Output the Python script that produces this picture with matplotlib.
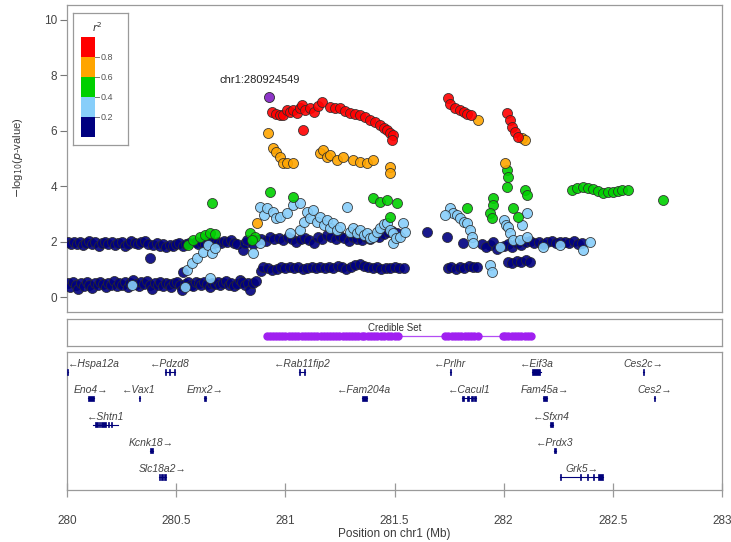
import matplotlib
matplotlib.use("Agg")
import matplotlib.pyplot as plt
from matplotlib.patches import Rectangle

plt.rcParams['font.family'] = ['Liberation Sans', 'DejaVu Sans']

# ---------------------------------------------------------------- data
# LD bins (r^2) and their colours
ld_labels = ["0.2", "0.4", "0.6", "0.8"]
ld_colors = ["#000080", "#87CEFA", "#00D000", "#FFA500", "#FF0000"]

# r^2 < 0.2
pos_ld1 = [
    # left upper band
    280.005, 280.018, 280.030, 280.045, 280.060, 280.072, 280.088, 280.100, 280.115, 280.130,
    280.145, 280.160, 280.175, 280.190, 280.205, 280.220, 280.235, 280.250, 280.265, 280.280,
    280.295, 280.310, 280.325, 280.340, 280.355, 280.370, 280.380, 280.395, 280.410, 280.425,
    280.440, 280.455, 280.470, 280.485, 280.500, 280.515, 280.532, 280.545, 280.560, 280.590,
    280.600, 280.615, 280.630, 280.645, 280.660, 280.675, 280.690, 280.705, 280.720, 280.735,
    280.750, 280.765, 280.780, 280.806,
    # left lower band
    280.005, 280.015, 280.028, 280.040, 280.052, 280.065, 280.078, 280.090, 280.103, 280.116,
    280.128, 280.140, 280.153, 280.166, 280.178, 280.190, 280.203, 280.216, 280.228, 280.240,
    280.253, 280.266, 280.278, 280.290, 280.303, 280.316, 280.328, 280.340, 280.353, 280.366,
    280.378, 280.390, 280.403, 280.416, 280.428, 280.440, 280.453, 280.466, 280.478, 280.490,
    280.503, 280.516, 280.528, 280.540, 280.553, 280.566, 280.578, 280.590, 280.603, 280.616,
    280.628, 280.640, 280.653, 280.666, 280.678, 280.690, 280.703, 280.716, 280.728, 280.740,
    280.753, 280.766, 280.778, 280.792, 280.802, 280.815, 280.830, 280.838, 280.852, 280.865,
    # middle lower band
    280.890, 280.900, 280.920, 280.940, 280.960, 280.980, 281.000, 281.020, 281.040, 281.060,
    281.080, 281.100, 281.120, 281.140, 281.160, 281.180, 281.200, 281.220, 281.240, 281.260,
    281.280, 281.300, 281.320, 281.340, 281.360, 281.380, 281.400, 281.420, 281.440, 281.460,
    281.480, 281.500, 281.520, 281.545,
    # middle upper band
    280.815, 280.825, 280.850, 280.870, 280.890, 280.910, 280.930, 280.950, 280.970, 280.990,
    281.010, 281.030, 281.050, 281.070, 281.090, 281.110, 281.130, 281.150, 281.170, 281.190,
    281.210, 281.230, 281.250, 281.270, 281.290, 281.310, 281.330, 281.350, 281.370, 281.390,
    281.410, 281.430, 281.450, 281.470, 281.490, 281.510,
    # scattered and right-hand bands
    281.649, 281.741, 281.814, 281.938, 281.900, 281.920, 281.950, 281.970,
    281.745, 281.760, 281.780, 281.800, 281.820, 281.840, 281.860, 281.880,
    282.020, 282.040, 282.060, 282.080, 282.100, 282.120,
    282.000, 282.020, 282.040, 282.060, 282.080, 282.100, 282.120, 282.140, 282.160, 282.180,
    282.200, 282.220, 282.240, 282.260, 282.280, 282.300, 282.320, 282.340, 282.360,
    280.532,
]
logp_ld1 = [
    1.98, 1.90, 2.00, 1.93, 1.99, 1.88, 1.96, 2.02, 1.92, 1.97,
    1.86, 1.94, 2.00, 1.91, 1.97, 1.89, 1.95, 1.99, 1.85, 1.93,
    2.01, 1.96, 1.90, 1.98, 2.03, 1.92, 1.41, 1.88, 1.95, 1.84,
    1.90, 1.80, 1.87, 1.83, 1.90, 1.94, 1.86, 1.92, 1.96, 2.00,
    1.93, 1.99, 1.91, 1.97, 2.02, 1.95, 2.00, 1.94, 2.03, 1.98,
    2.05, 1.96, 1.90, 1.69,
    0.50, 0.38, 0.55, 0.44, 0.30, 0.52, 0.40, 0.56, 0.45, 0.34,
    0.50, 0.42, 0.55, 0.46, 0.36, 0.52, 0.44, 0.58, 0.40, 0.50,
    0.45, 0.55, 0.38, 0.50, 0.60, 0.46, 0.40, 0.53, 0.48, 0.57,
    0.43, 0.30, 0.50, 0.45, 0.55, 0.40, 0.52, 0.47, 0.35, 0.50,
    0.56, 0.42, 0.25, 0.48, 0.53, 0.45, 0.40, 0.55, 0.50, 0.43,
    0.56, 0.48, 0.38, 0.52, 0.46, 0.55, 0.42, 0.50, 0.58, 0.45,
    0.52, 0.40, 0.48, 0.61, 0.55, 0.42, 0.50, 0.25, 0.50, 0.58,
    0.95, 1.10, 1.05, 0.98, 1.02, 1.08, 1.05, 1.10, 1.06, 1.08,
    1.02, 1.06, 1.10, 1.05, 1.08, 1.03, 1.10, 1.06, 1.12, 1.08,
    1.02, 1.08, 1.15, 1.20, 1.12, 1.08, 1.05, 1.10, 1.02, 1.06,
    1.04, 1.08, 1.05, 1.06,
    1.95, 2.05, 1.92, 2.05, 2.10, 2.02, 2.15, 2.08, 2.12, 2.05,
    2.15, 2.10, 1.98, 2.08, 2.12, 2.05, 1.96, 2.18, 2.10, 2.25,
    2.15, 2.08, 2.20, 2.12, 2.03, 2.18, 2.10, 2.05, 2.15, 2.08,
    2.22, 2.16, 2.28, 2.34, 2.40, 2.30,
    2.34, 2.16, 1.95, 1.87, 1.92, 1.80, 2.00, 1.75,
    1.05, 1.08, 1.02, 1.10, 1.06, 1.12, 1.08, 1.10,
    1.25, 1.22, 1.30, 1.28, 1.32, 1.25,
    1.85, 1.92, 1.80, 1.95, 1.88, 1.98, 2.02, 1.95, 2.00, 1.92,
    1.98, 2.02, 1.95, 2.00, 1.97, 1.94, 2.02, 1.90, 1.96,
    0.90,
]

# 0.2 <= r^2 < 0.4
pos_ld2 = [
    280.298, 280.541, 280.655, 280.550, 280.573, 280.596, 280.623, 280.646, 280.664, 280.678,
    280.852, 280.884, 280.884, 280.902, 280.916, 280.944, 280.957, 280.976, 281.008, 281.022,
    281.035, 281.067, 281.067, 281.086, 281.099, 281.113, 281.127, 281.145, 281.159, 281.177,
    281.191, 281.205, 281.219, 281.237, 281.251, 281.283, 281.296, 281.310, 281.328, 281.342,
    281.360, 281.374, 281.388, 281.402, 281.420, 281.434, 281.452, 281.466, 281.480, 281.493,
    281.493, 281.507, 281.525, 281.539, 281.548,
    281.754, 281.768, 281.786, 281.800, 281.818, 281.832, 281.846, 281.855, 281.860, 281.732,
    281.938, 281.947, 282.002, 282.011, 282.020, 282.029, 282.043, 282.075, 282.107, 282.107,
    282.084, 282.180, 282.258, 282.364, 282.396, 281.983,
]
logp_ld2 = [
    0.43, 0.36, 0.68, 0.97, 1.23, 1.41, 1.62, 1.87, 1.59, 1.77,
    1.59, 1.95, 3.24, 2.95, 3.21, 3.06, 2.85, 2.88, 3.03, 2.31,
    3.32, 3.39, 2.41, 2.70, 3.06, 2.85, 3.14, 2.70, 2.88, 2.59,
    2.77, 2.49, 2.67, 2.41, 2.52, 3.24, 2.34, 2.49, 2.31, 2.41,
    2.23, 2.31, 2.13, 2.16, 2.34, 2.49, 2.63, 2.67, 2.41, 2.31,
    1.95, 2.13, 2.16, 2.67, 2.34,
    3.21, 3.03, 2.95, 2.85, 2.70, 2.67, 2.41, 2.16, 1.95, 2.95,
    1.15, 0.90, 2.77, 2.59, 2.52, 2.31, 2.05, 2.05, 2.16, 3.03,
    2.59, 1.80, 1.87, 1.69, 1.98, 1.80,
]

# 0.4 <= r^2 < 0.6
pos_ld3 = [
    280.664, 280.930, 280.554, 280.577, 280.609, 280.632, 280.655, 280.678, 280.838, 280.861,
    280.847, 281.035, 281.402, 281.434, 281.466, 281.512, 281.480, 282.016, 282.020, 282.016,
    282.098, 282.107, 281.951, 281.951, 281.832, 281.938, 281.947, 282.043, 282.066,
    282.313, 282.336, 282.364, 282.387, 282.409, 282.432, 282.455, 282.478, 282.501, 282.524,
    282.542, 282.570, 282.730,
]
logp_ld3 = [
    3.39, 3.78, 1.87, 2.05, 2.16, 2.23, 2.31, 2.27, 2.31, 2.16,
    2.05, 3.60, 3.57, 3.42, 3.50, 3.39, 2.88, 4.58, 4.32, 3.96,
    3.86, 3.68, 3.57, 3.32, 3.21, 3.03, 2.85, 3.21, 2.88,
    3.86, 3.93, 3.96, 3.93, 3.89, 3.82, 3.75, 3.78, 3.78, 3.82,
    3.86, 3.86, 3.50,
]

# 0.6 <= r^2 < 0.8
pos_ld4 = [
    280.921, 280.944, 280.957, 280.976, 280.989, 281.008, 281.035, 281.159, 281.173, 281.191,
    281.205, 281.237, 281.264, 281.310, 281.342, 281.374, 281.402, 281.480, 281.480, 280.870,
    281.883, 282.084, 282.098, 282.006,
]
logp_ld4 = [
    5.91, 5.37, 5.23, 5.05, 4.83, 4.83, 4.83, 5.19, 5.30, 5.05,
    5.12, 4.94, 5.05, 4.94, 4.86, 4.83, 4.94, 4.68, 4.47, 2.67,
    6.38, 5.73, 5.66, 4.83,
]

# r^2 >= 0.8
pos_ld5 = [
    280.939, 280.957, 280.976, 280.989, 281.008, 281.022, 281.035, 281.054, 281.067, 281.076,
    281.090, 281.113, 281.131, 281.150, 281.168, 281.081, 281.205, 281.228, 281.251, 281.273,
    281.296, 281.319, 281.342, 281.365, 281.388, 281.411, 281.434, 281.452, 281.466, 281.480,
    281.493, 281.489, 281.745, 281.754, 281.777, 281.800, 281.818, 281.832, 281.850,
    282.016, 282.029, 282.038, 282.052, 282.066,
]
logp_ld5 = [
    6.67, 6.60, 6.56, 6.56, 6.74, 6.67, 6.74, 6.63, 6.81, 6.92,
    6.74, 6.81, 6.67, 6.88, 7.03, 6.02, 6.85, 6.81, 6.81, 6.70,
    6.63, 6.60, 6.56, 6.49, 6.38, 6.31, 6.20, 6.09, 6.02, 5.91,
    5.84, 5.66, 7.17, 6.95, 6.81, 6.74, 6.67, 6.60, 6.56,
    6.63, 6.38, 6.13, 5.95, 5.77,
]

# index SNP
index_name = "chr1:280924549"
index_pos = 280.924549
index_logp = 7.21

# credible set SNP positions (Mb)
credible_pos = [
    280.915, 280.928, 280.944, 280.958, 280.971, 280.986, 281.000, 281.017, 281.031, 281.046,
    281.060, 281.075, 281.089, 281.104, 281.118, 281.133, 281.147, 281.162, 281.176, 281.190,
    281.205, 281.219, 281.234, 281.248, 281.263, 281.277, 281.292, 281.306, 281.321, 281.335,
    281.350, 281.362, 281.378, 281.392, 281.407, 281.421, 281.440, 281.452, 281.470, 281.484,
    281.500, 281.515,
    281.733, 281.747, 281.762, 281.776, 281.791, 281.806, 281.821, 281.836, 281.851, 281.866,
    281.882,
    281.995, 282.008, 282.022, 282.037, 282.052, 282.066, 282.081, 282.096, 282.110, 282.124,
]

# genes: name, start, end, strand, row, exons
genes = [
    ("Hspa12a", 279.960, 280.006, "-", 0, [(280.000, 280.006)]),
    ("Pdzd8", 280.448, 280.496, "-", 0, [(280.448, 280.453), (280.469, 280.474), (280.490, 280.496)]),
    ("Rab11fip2", 281.062, 281.090, "-", 0, [(281.062, 281.066), (281.085, 281.090)]),
    ("Prlhr", 281.753, 281.757, "-", 0, [(281.753, 281.757)]),
    ("Eif3a", 282.132, 282.170, "-", 0, [(282.132, 282.165)]),
    ("Ces2c", 282.638, 282.644, "+", 0, [(282.638, 282.644)]),
    ("Eno4", 280.095, 280.125, "+", 1, [(280.095, 280.125)]),
    ("Vax1", 280.328, 280.333, "-", 1, [(280.328, 280.333)]),
    ("Emx2", 280.629, 280.636, "+", 1, [(280.629, 280.636)]),
    ("Fam204a", 281.350, 281.372, "-", 1, [(281.350, 281.372)]),
    ("Cacul1", 281.810, 281.875, "-", 1, [(281.810, 281.820), (281.830, 281.840), (281.850, 281.860), (281.865, 281.875)]),
    ("Fam45a", 282.180, 282.198, "+", 1, [(282.180, 282.198)]),
    ("Ces2", 282.687, 282.693, "+", 1, [(282.687, 282.693)]),
    ("Shtn1", 280.120, 280.235, "-", 2, [(280.130, 280.140), (280.145, 280.152), (280.157, 280.180), (280.186, 280.192), (280.200, 280.205)]),
    ("Sfxn4", 282.210, 282.228, "-", 2, [(282.210, 282.228)]),
    ("Kcnk18", 280.380, 280.392, "+", 3, [(280.380, 280.392)]),
    ("Prdx3", 282.232, 282.239, "-", 3, [(282.232, 282.239)]),
    ("Slc18a2", 280.420, 280.452, "+", 4, [(280.420, 280.428), (280.432, 280.440), (280.445, 280.452)]),
    ("Grk5", 282.260, 282.455, "+", 4, [(282.260, 282.263), (282.350, 282.354), (282.380, 282.384), (282.410, 282.415), (282.430, 282.455)]),
]

x_ticks = [280, 280.5, 281, 281.5, 282, 282.5, 283]
x_tick_labels = ["280", "280.5", "281", "281.5", "282", "282.5", "283"]
y_ticks = [0, 2, 4, 6, 8, 10]

# ---------------------------------------------------------------- layout
W, H = 731, 542
XMIN, XMAX = 280.0, 283.0
FRAME = "#9a9a9a"
TEXT = "#3a3a3a"


def rect(l, t, r, b):
    return [l / W, 1 - b / H, (r - l) / W, (b - t) / H]


fig = plt.figure(figsize=(W / 100, H / 100), dpi=100)

# ---------------------------------------------------------------- association panel
ax = fig.add_axes(rect(67, 5, 722, 312))
ax.set_xlim(XMIN, XMAX)
ax.set_ylim(-0.54, 10.54)
ax.set_xticks([])
ax.set_yticks(y_ticks)
ax.tick_params(axis="y", length=5, width=0.8, color="#777777", labelsize=8.5,
               labelcolor="#444444", pad=2)
for s in ax.spines.values():
    s.set_color(FRAME)
    s.set_linewidth(0.9)

groups = [(pos_ld1, logp_ld1), (pos_ld2, logp_ld2), (pos_ld3, logp_ld3),
          (pos_ld4, logp_ld4), (pos_ld5, logp_ld5)]
for (px, py), col in zip(groups, ld_colors):
    ax.scatter(px, py, s=52, c=col, edgecolors="#2b2b2b", linewidths=0.6,
               alpha=0.9, zorder=3)

ax.scatter([index_pos], [index_logp], s=52, c="#8E35C8", edgecolors="#2b2b2b",
           linewidths=0.6, zorder=5)
ax.text(index_pos - 0.04, index_logp + 0.45, index_name, ha="center", va="bottom",
        fontsize=8, color="#222222")

fig.text(18 / W, 1 - 158 / H, r"$-$log$_{10}$($p$-value)", rotation=90,
         ha="center", va="center", fontsize=8, color=TEXT)

# r^2 colour key
lg = fig.add_axes(rect(73, 13, 128, 145))
lg.set_xlim(0, 55)
lg.set_ylim(132, 0)
lg.set_xticks([])
lg.set_yticks([])
for s in lg.spines.values():
    s.set_color(FRAME)
    s.set_linewidth(0.9)
for i, col in enumerate(reversed(ld_colors)):
    lg.add_patch(Rectangle((8, 24 + 20 * i), 14, 20, facecolor=col, edgecolor="none"))
for i, lab in enumerate(reversed(ld_labels)):
    yb = 44 + 20 * i
    lg.plot([22, 26], [yb, yb], color="#777777", lw=0.7)
    lg.text(28, yb, lab, ha="left", va="center", fontsize=6.5, color="#555555")
lg.text(24, 14, r"$r^2$", ha="center", va="center", fontsize=7.5, color="#333333")

# ---------------------------------------------------------------- credible set panel
ac = fig.add_axes(rect(67, 319, 722, 346))
ac.set_xlim(XMIN, XMAX)
ac.set_ylim(0, 1)
ac.set_xticks([])
ac.set_yticks([])
for s in ac.spines.values():
    s.set_color(FRAME)
    s.set_linewidth(0.9)
ac.plot([min(credible_pos), max(credible_pos)], [0.37, 0.37], color="#A020F0",
        lw=0.9, alpha=0.8)
ac.plot(credible_pos, [0.37] * len(credible_pos), ls="none", marker="o", ms=5,
        color="#A020F0", mec="#A020F0")
ac.text(281.5, 0.68, "Credible Set", ha="center", va="center", fontsize=7,
        color="#333333")

# ---------------------------------------------------------------- gene panel
ag = fig.add_axes(rect(67, 352, 722, 490))
ag.set_xlim(XMIN, XMAX)
ag.set_ylim(4.495, -0.762)
ag.set_yticks([])
for s in ag.spines.values():
    s.set_color(FRAME)
    s.set_linewidth(0.9)
ag.set_xticks(x_ticks)
ag.set_xticklabels(x_tick_labels)
ag.tick_params(axis="x", direction="inout", length=10, width=0.9, color="#999999",
               labelsize=8.5, labelcolor="#444444", pad=13)
ag.set_xlabel("Position on chr1 (Mb)", fontsize=8.5, color=TEXT, labelpad=1)

GENE_COL = "#00007A"
for name, start, end, strand, row, exons in genes:
    ag.plot([start, end], [row, row], color=GENE_COL, lw=0.8, zorder=2)
    for es, ee in exons:
        ag.add_patch(Rectangle((es, row - 0.1), max(ee - es, 0.003), 0.2,
                               facecolor=GENE_COL, edgecolor=GENE_COL, lw=0.5, zorder=3))
    label = ("\u2190" + name) if strand == "-" else (name + "\u2192")
    mid = 0.5 * (start + end)
    if start < XMIN:
        ag.text(XMIN + 0.005, row - 0.3, label, ha="left", va="center", fontsize=7.5,
                style="italic", color="#444444")
    else:
        ag.text(mid, row - 0.3, label, ha="center", va="center", fontsize=7.5,
                style="italic", color="#444444")

fig.savefig("out.png", dpi=100)
